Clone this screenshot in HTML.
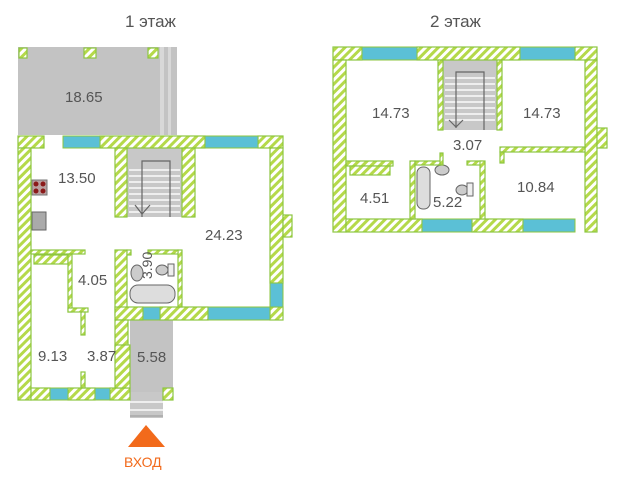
<!DOCTYPE html>
<html><head><meta charset="utf-8"><style>
html,body{margin:0;padding:0;background:#fff;width:625px;height:480px;overflow:hidden}
svg{display:block}
text{font-family:"Liberation Sans",sans-serif;fill:#555}
</style></head><body>
<svg width="625" height="480" viewBox="0 0 625 480" xmlns="http://www.w3.org/2000/svg">
<defs>
<pattern id="h" width="6" height="6" patternUnits="userSpaceOnUse" patternTransform="rotate(45)">
<rect width="6" height="6" fill="#fff"/><rect width="3" height="6" fill="#b5d94a"/>
</pattern>
</defs>
<text x="125" y="27" font-size="17">1 этаж</text>
<text x="430" y="27" font-size="17">2 этаж</text>

<!-- FLOOR 1 -->
<rect x="18" y="47" width="159" height="88" fill="#c3c3c3"/>
<rect x="160" y="47" width="4" height="88" fill="#d8d8d8"/>
<rect x="168" y="47" width="3" height="88" fill="#d8d8d8"/>
<g fill="url(#h)" stroke="#8dc63f" stroke-width="1.2">
<rect x="19" y="48" width="8" height="10"/><rect x="84" y="48" width="12" height="10"/><rect x="148" y="48" width="10" height="10"/>
</g>
<text x="65" y="102" font-size="15">18.65</text>

<!-- stairs -->
<rect x="127" y="148" width="55" height="69" fill="#c8c8c8"/>
<g stroke="#eee" stroke-width="2">
<line x1="129" y1="170" x2="180" y2="170"/><line x1="129" y1="176" x2="180" y2="176"/><line x1="129" y1="182" x2="180" y2="182"/><line x1="129" y1="188" x2="180" y2="188"/><line x1="129" y1="194" x2="180" y2="194"/><line x1="129" y1="200" x2="180" y2="200"/><line x1="129" y1="206" x2="180" y2="206"/><line x1="129" y1="212" x2="180" y2="212"/>
</g>
<polyline points="142,217 142,161 170,161 170,217" fill="none" stroke="#666" stroke-width="1.2"/>
<polyline points="135,205 142,214 150,205" fill="none" stroke="#666" stroke-width="1.2"/>

<!-- entrance corridor -->
<rect x="130" y="320" width="43" height="72" fill="#c3c3c3"/>
<rect x="130" y="392" width="33" height="26" fill="#c8c8c8"/>
<line x1="130" y1="402" x2="163" y2="402" stroke="#eee" stroke-width="2"/>
<line x1="130" y1="410" x2="163" y2="410" stroke="#eee" stroke-width="2"/>
<line x1="130" y1="416" x2="163" y2="416" stroke="#999" stroke-width="1"/>

<!-- bathroom fixtures -->
<rect x="130" y="285" width="45" height="18" rx="8" fill="#ddd" stroke="#666"/>
<ellipse cx="137" cy="273" rx="6" ry="8" fill="#ccc" stroke="#666"/>
<ellipse cx="162" cy="270" rx="6" ry="5" fill="#ccc" stroke="#666"/>
<rect x="168" y="264" width="6" height="12" fill="#eee" stroke="#666"/>

<!-- kitchen -->
<rect x="32" y="180" width="15" height="15" fill="#b9a0a0" stroke="#777"/>
<g fill="#8b1a1a"><circle cx="36" cy="184" r="2.5"/><circle cx="43" cy="184" r="2.5"/><circle cx="36" cy="191" r="2.5"/><circle cx="43" cy="191" r="2.5"/></g>
<rect x="32" y="212" width="14" height="18" fill="#aaa" stroke="#666"/>

<g fill="url(#h)" stroke="#8dc63f" stroke-width="1.2">
<!-- top wall -->
<rect x="18" y="136" width="26" height="12"/>
<rect x="100" y="136" width="105" height="12"/>
<rect x="258" y="136" width="25" height="12"/>
<!-- left wall -->
<rect x="18" y="148" width="13" height="252"/>
<!-- right wall -->
<rect x="270" y="148" width="13" height="135"/>
<rect x="283" y="215" width="9" height="22"/>
<rect x="270" y="307" width="13" height="13"/>
<!-- stair walls -->
<rect x="115" y="148" width="12" height="69"/>
<rect x="182" y="148" width="13" height="69"/>
<!-- bath / corridor walls -->
<rect x="115" y="250" width="12" height="65"/>
<rect x="115" y="307" width="28" height="13"/>
<rect x="160" y="307" width="48" height="13"/>
<rect x="115" y="320" width="13" height="32"/>
<rect x="178" y="250" width="4" height="57"/>
<rect x="127" y="250" width="4" height="5"/>
<rect x="148" y="250" width="30" height="4"/>
<!-- bottom walls -->
<rect x="31" y="388" width="19" height="12"/>
<rect x="68" y="388" width="27" height="12"/>
<rect x="110" y="388" width="20" height="12"/>
<rect x="115" y="345" width="15" height="43"/>
<rect x="163" y="388" width="10" height="12"/>
<!-- interior partitions -->
<rect x="31" y="250" width="54" height="4"/>
<rect x="34" y="255" width="34" height="9"/>
<rect x="68" y="254" width="4" height="58"/>
<rect x="68" y="308" width="20" height="4"/>
<rect x="81" y="312" width="4" height="23"/>
<rect x="81" y="372" width="4" height="16"/>
</g>
<g fill="#5bc0d6" stroke="#8dc63f" stroke-width="1">
<rect x="63" y="136" width="37" height="12"/>
<rect x="205" y="136" width="53" height="12"/>
<rect x="270" y="283" width="13" height="24"/>
<rect x="208" y="307" width="62" height="13"/>
<rect x="143" y="307" width="17" height="13"/>
<rect x="50" y="388" width="18" height="12"/>
<rect x="95" y="388" width="15" height="12"/>
</g>
<text x="58" y="183" font-size="15">13.50</text>
<text x="205" y="240" font-size="15">24.23</text>
<text x="78" y="285" font-size="15">4.05</text>
<text x="152" y="279" font-size="14" transform="rotate(-90 152 279)">3.90</text>
<text x="38" y="361" font-size="15">9.13</text>
<text x="87" y="361" font-size="15">3.87</text>
<text x="137" y="362" font-size="15">5.58</text>
<polygon points="146,425 128,447 165,447" fill="#f26a1b"/>
<text x="124" y="467" font-size="14" style="fill:#f26a1b">ВХОД</text>

<!-- FLOOR 2 -->
<rect x="443" y="60" width="54" height="70" fill="#c8c8c8"/>
<g stroke="#eee" stroke-width="2">
<line x1="445" y1="78" x2="495" y2="78"/><line x1="445" y1="84" x2="495" y2="84"/><line x1="445" y1="90" x2="495" y2="90"/><line x1="445" y1="96" x2="495" y2="96"/><line x1="445" y1="102" x2="495" y2="102"/><line x1="445" y1="108" x2="495" y2="108"/><line x1="445" y1="114" x2="495" y2="114"/><line x1="445" y1="120" x2="495" y2="120"/>
</g>
<polyline points="456,128 456,72 484,72 484,130" fill="none" stroke="#666" stroke-width="1.2"/>
<polyline points="449,120 456,127 463,120" fill="none" stroke="#666" stroke-width="1.2"/>
<rect x="417" y="167" width="13" height="42" rx="6" fill="#ddd" stroke="#666"/>
<ellipse cx="442" cy="170" rx="7" ry="5" fill="#ccc" stroke="#666"/>
<ellipse cx="462" cy="190" rx="6" ry="5" fill="#ccc" stroke="#666"/>
<rect x="467" y="183" width="6" height="13" fill="#eee" stroke="#666"/>
<g fill="url(#h)" stroke="#8dc63f" stroke-width="1.2">
<rect x="333" y="47" width="29" height="13"/>
<rect x="417" y="47" width="103" height="13"/>
<rect x="575" y="47" width="22" height="13"/>
<rect x="333" y="60" width="13" height="172"/>
<rect x="585" y="60" width="12" height="172"/>
<rect x="597" y="128" width="10" height="20"/>
<rect x="346" y="219" width="76" height="13"/>
<rect x="472" y="219" width="51" height="13"/>
<rect x="438" y="60" width="5" height="70"/>
<rect x="497" y="60" width="5" height="70"/>
<rect x="500" y="147" width="85" height="5"/>
<rect x="500" y="152" width="4" height="11"/>
<rect x="346" y="161" width="47" height="5"/>
<rect x="350" y="166" width="40" height="9"/>
<rect x="410" y="161" width="5" height="58"/>
<rect x="440" y="153" width="3" height="12"/>
<rect x="415" y="161" width="25" height="4"/>
<rect x="467" y="161" width="15" height="4"/>
<rect x="480" y="161" width="5" height="58"/>
</g>
<g fill="#5bc0d6" stroke="#8dc63f" stroke-width="1">
<rect x="362" y="47" width="55" height="13"/>
<rect x="520" y="47" width="55" height="13"/>
<rect x="422" y="219" width="50" height="13"/>
<rect x="523" y="219" width="52" height="13"/>
</g>
<text x="372" y="118" font-size="15">14.73</text>
<text x="523" y="118" font-size="15">14.73</text>
<text x="453" y="150" font-size="15">3.07</text>
<text x="517" y="192" font-size="15">10.84</text>
<text x="360" y="203" font-size="15">4.51</text>
<text x="433" y="207" font-size="15">5.22</text>
</svg>
</body></html>
